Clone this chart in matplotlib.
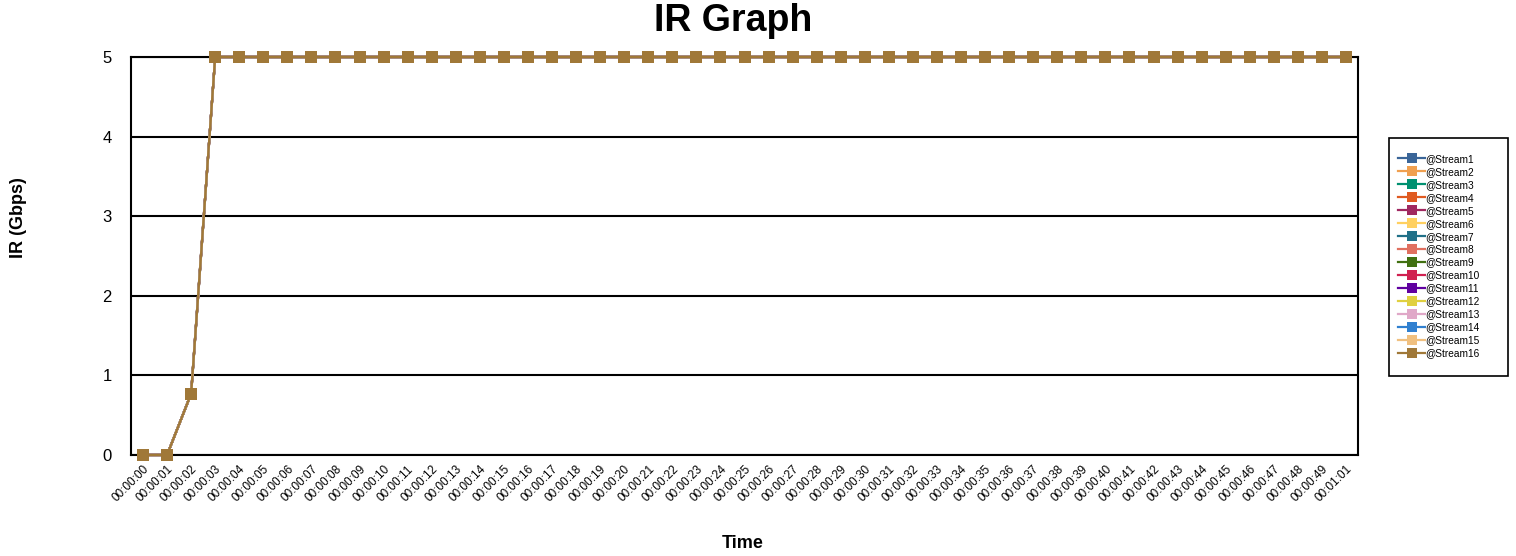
import matplotlib
matplotlib.use('Agg')
import matplotlib.pyplot as plt
import matplotlib.patches as pts

plt.rcParams['font.family'] = ['Liberation Sans', 'DejaVu Sans']

# time labels (category axis)
times = ['00:00:%02d' % s for s in range(50)] + ['00:01:01']
# all streams report the same IR values, so they overlap
ir_values = [0, 0, 0.77] + [5] * 48

streams = ['@Stream%d' % i for i in range(1, 17)]
colors = ['#3a6598', '#f0a050', '#009070', '#e05a20', '#a02860', '#ffd060',
          '#207088', '#e07060', '#407010', '#d02050', '#6000a0', '#e0d040',
          '#e0a8c8', '#3080d0', '#f0c080', '#a07838']

fig = plt.figure(figsize=(15.16, 5.56), dpi=100)
ax = fig.add_axes([0.0864, 0.1817, 0.8094, 0.7158])

x = list(range(len(times)))
for name, c in zip(streams, colors):
    ax.plot(x, ir_values, color=c, lw=1.6, marker='s', markersize=8.5,
            markeredgewidth=0, label=name, clip_on=False, zorder=3)

ax.set_xlim(-0.5, len(times) - 0.5)
ax.set_ylim(0, 5)
ax.set_yticks([0, 1, 2, 3, 4, 5])
ax.set_xticks(x)
ax.set_xticklabels(times, rotation=45, ha='right', rotation_mode='anchor', fontsize=8.5)
ax.tick_params(axis='both', length=0)
ax.tick_params(axis='y', labelsize=12, pad=14)
ax.tick_params(axis='x', pad=6)
ax.yaxis.grid(True, color='black', lw=1.5)
ax.set_axisbelow(True)
for s in ax.spines.values():
    s.set_linewidth(1.5)
    s.set_color('black')
    s.set_zorder(2)

fig.text(0.4835, 1 - 21 / 556, 'IR Graph', fontsize=27, fontweight='bold',
         ha='center', va='center')
fig.text(0.0125, 1 - 218 / 556, 'IR (Gbps)', fontsize=13, fontweight='bold',
         rotation=90, ha='center', va='center')
fig.text(0.490, 1 - 543 / 556, 'Time', fontsize=13, fontweight='bold',
         ha='center', va='center')

# legend box drawn by hand, entries from ax.legend
box = pts.Rectangle((1389 / 1516, 1 - 376 / 556), 119 / 1516, 238 / 556,
                    transform=fig.transFigure, fill=False, edgecolor='black', lw=1.2)
fig.patches.append(box)
leg = ax.legend(loc='upper left', bbox_to_anchor=(1398 / 1516, 1 - 154 / 556),
                bbox_transform=fig.transFigure, fontsize=7.3, frameon=False,
                markerscale=0.85, handlelength=2.7, handletextpad=0.0,
                labelspacing=0.29, borderpad=0, borderaxespad=0)

fig.savefig('out.png', dpi=100)
